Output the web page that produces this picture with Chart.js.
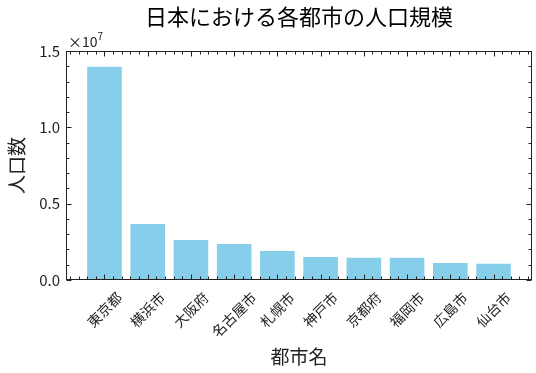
<!DOCTYPE html>
<html>
<head>
<meta charset="utf-8">
<title>日本における各都市の人口規模</title>
<script src="https://cdn.jsdelivr.net/npm/chart.js@4"></script>
<style>
body { margin: 0; background: #fff; }
</style>
</head>
<body>
<canvas id="population_chart" width="536" height="373"></canvas>
<script>
// data
const cities = ['東京都', '横浜市', '大阪府', '名古屋市', '札幌市', '神戸市', '京都府', '福岡市', '広島市', '仙台市'];
const populations = [13970000, 3670000, 2620000, 2360000, 1900000, 1510000, 1460000, 1460000, 1110000, 1070000];
const yTickValues = [0, 5000000, 10000000, 15000000];
const yTickLabels = ['0.0', '0.5', '1.0', '1.5'];

const FONT = '"Noto Sans CJK JP", "Noto Sans", sans-serif';

// matplotlib "science" look: ticks inside on all four sides, labels drawn by hand
const sciStyle = {
	id: 'sciStyle',
	afterDraw(chart) {
		const ctx = chart.ctx;
		const area = chart.chartArea;
		const xs = chart.scales.x;
		const ys = chart.scales.y;
		const L = Math.round(area.left) + 0.5;
		const R = Math.round(area.right) - 0.5;
		const T = Math.round(area.top) + 0.5;
		const B = Math.round(area.bottom) - 0.5;

		ctx.save();
		ctx.strokeStyle = '#222';
		ctx.lineWidth = 1;
		ctx.strokeRect(L, T, R - L, B - T);

		ctx.beginPath();
		// y ticks, minor every 0.1e7
		for (let i = 0; i <= 15; i++) {
			const py = Math.round(ys.getPixelForValue(i * 1000000)) + 0.5;
			const len = i % 5 === 0 ? 5 : 3;
			ctx.moveTo(L, py); ctx.lineTo(L + len, py);
			ctx.moveTo(R, py); ctx.lineTo(R - len, py);
		}
		// x ticks, minor every 0.2
		for (let k = -4; k <= 49; k++) {
			const px = Math.round(xs.getPixelForValue(k * 0.2)) + 0.5;
			const len = k % 5 === 0 ? 5 : 3;
			ctx.moveTo(px, B); ctx.lineTo(px, B - len);
			ctx.moveTo(px, T); ctx.lineTo(px, T + len);
		}
		ctx.stroke();

		ctx.fillStyle = '#222';
		// y tick labels
		ctx.font = '15px ' + FONT;
		ctx.textAlign = 'right';
		ctx.textBaseline = 'middle';
		yTickValues.forEach((v, i) => {
			ctx.fillText(yTickLabels[i], area.left - 6, ys.getPixelForValue(v));
		});

		// offset text x10^7
		ctx.textAlign = 'left';
		ctx.textBaseline = 'alphabetic';
		ctx.font = '14px ' + FONT;
		ctx.fillText('×10', area.left + 2, area.top - 4);
		const w = ctx.measureText('×10').width;
		ctx.font = '10px ' + FONT;
		ctx.fillText('7', area.left + 2 + w, area.top - 11);

		// category labels, rotated 45deg, centred under each bar
		ctx.font = '14px ' + FONT;
		ctx.textAlign = 'center';
		ctx.textBaseline = 'middle';
		cities.forEach((c, i) => {
			const tw = ctx.measureText(c).width;
			const h = (tw + 14) * Math.SQRT1_2;
			ctx.save();
			ctx.translate(xs.getPixelForValue(i), area.bottom + 10 + h / 2);
			ctx.rotate(-Math.PI / 4);
			ctx.fillText(c, 0, 0);
			ctx.restore();
		});

		const cx = (area.left + area.right) / 2;
		// x axis title
		ctx.font = '19px ' + FONT;
		ctx.fillText('都市名', cx, 357);

		// y axis title
		ctx.save();
		ctx.translate(17, (area.top + area.bottom) / 2);
		ctx.rotate(-Math.PI / 2);
		ctx.fillText('人口数', 0, 0);
		ctx.restore();

		// chart title
		ctx.fillStyle = '#000';
		ctx.font = '22px ' + FONT;
		ctx.fillText('日本における各都市の人口規模', cx, 17);

		ctx.restore();
	}
};

const ctx = document.getElementById('population_chart').getContext('2d');

let my_chart = new Chart(ctx, {
	type: 'bar',
	data: {
		datasets: [
			{
				label: '人口数',
				data: cities.map((c, i) => ({ x: i, y: populations[i] })),
				backgroundColor: '#87CEEB',
				borderWidth: 0,
				barPercentage: 0.8,
				categoryPercentage: 1.0,
			},
		],
	},
	options: {
		responsive: false,
		animation: false,
		layout: {
			padding: { left: 66, right: 4, top: 51, bottom: 93 },
		},
		plugins: {
			legend: { display: false },
			tooltip: { enabled: false },
		},
		scales: {
			x: {
				type: 'linear',
				display: false,
				offset: false,
				grid: { offset: false },
				min: -0.89,
				max: 9.89,
			},
			y: {
				display: false,
				min: 0,
				max: 15000000,
			},
		},
	},
	plugins: [sciStyle],
});
</script>
</body>
</html>
